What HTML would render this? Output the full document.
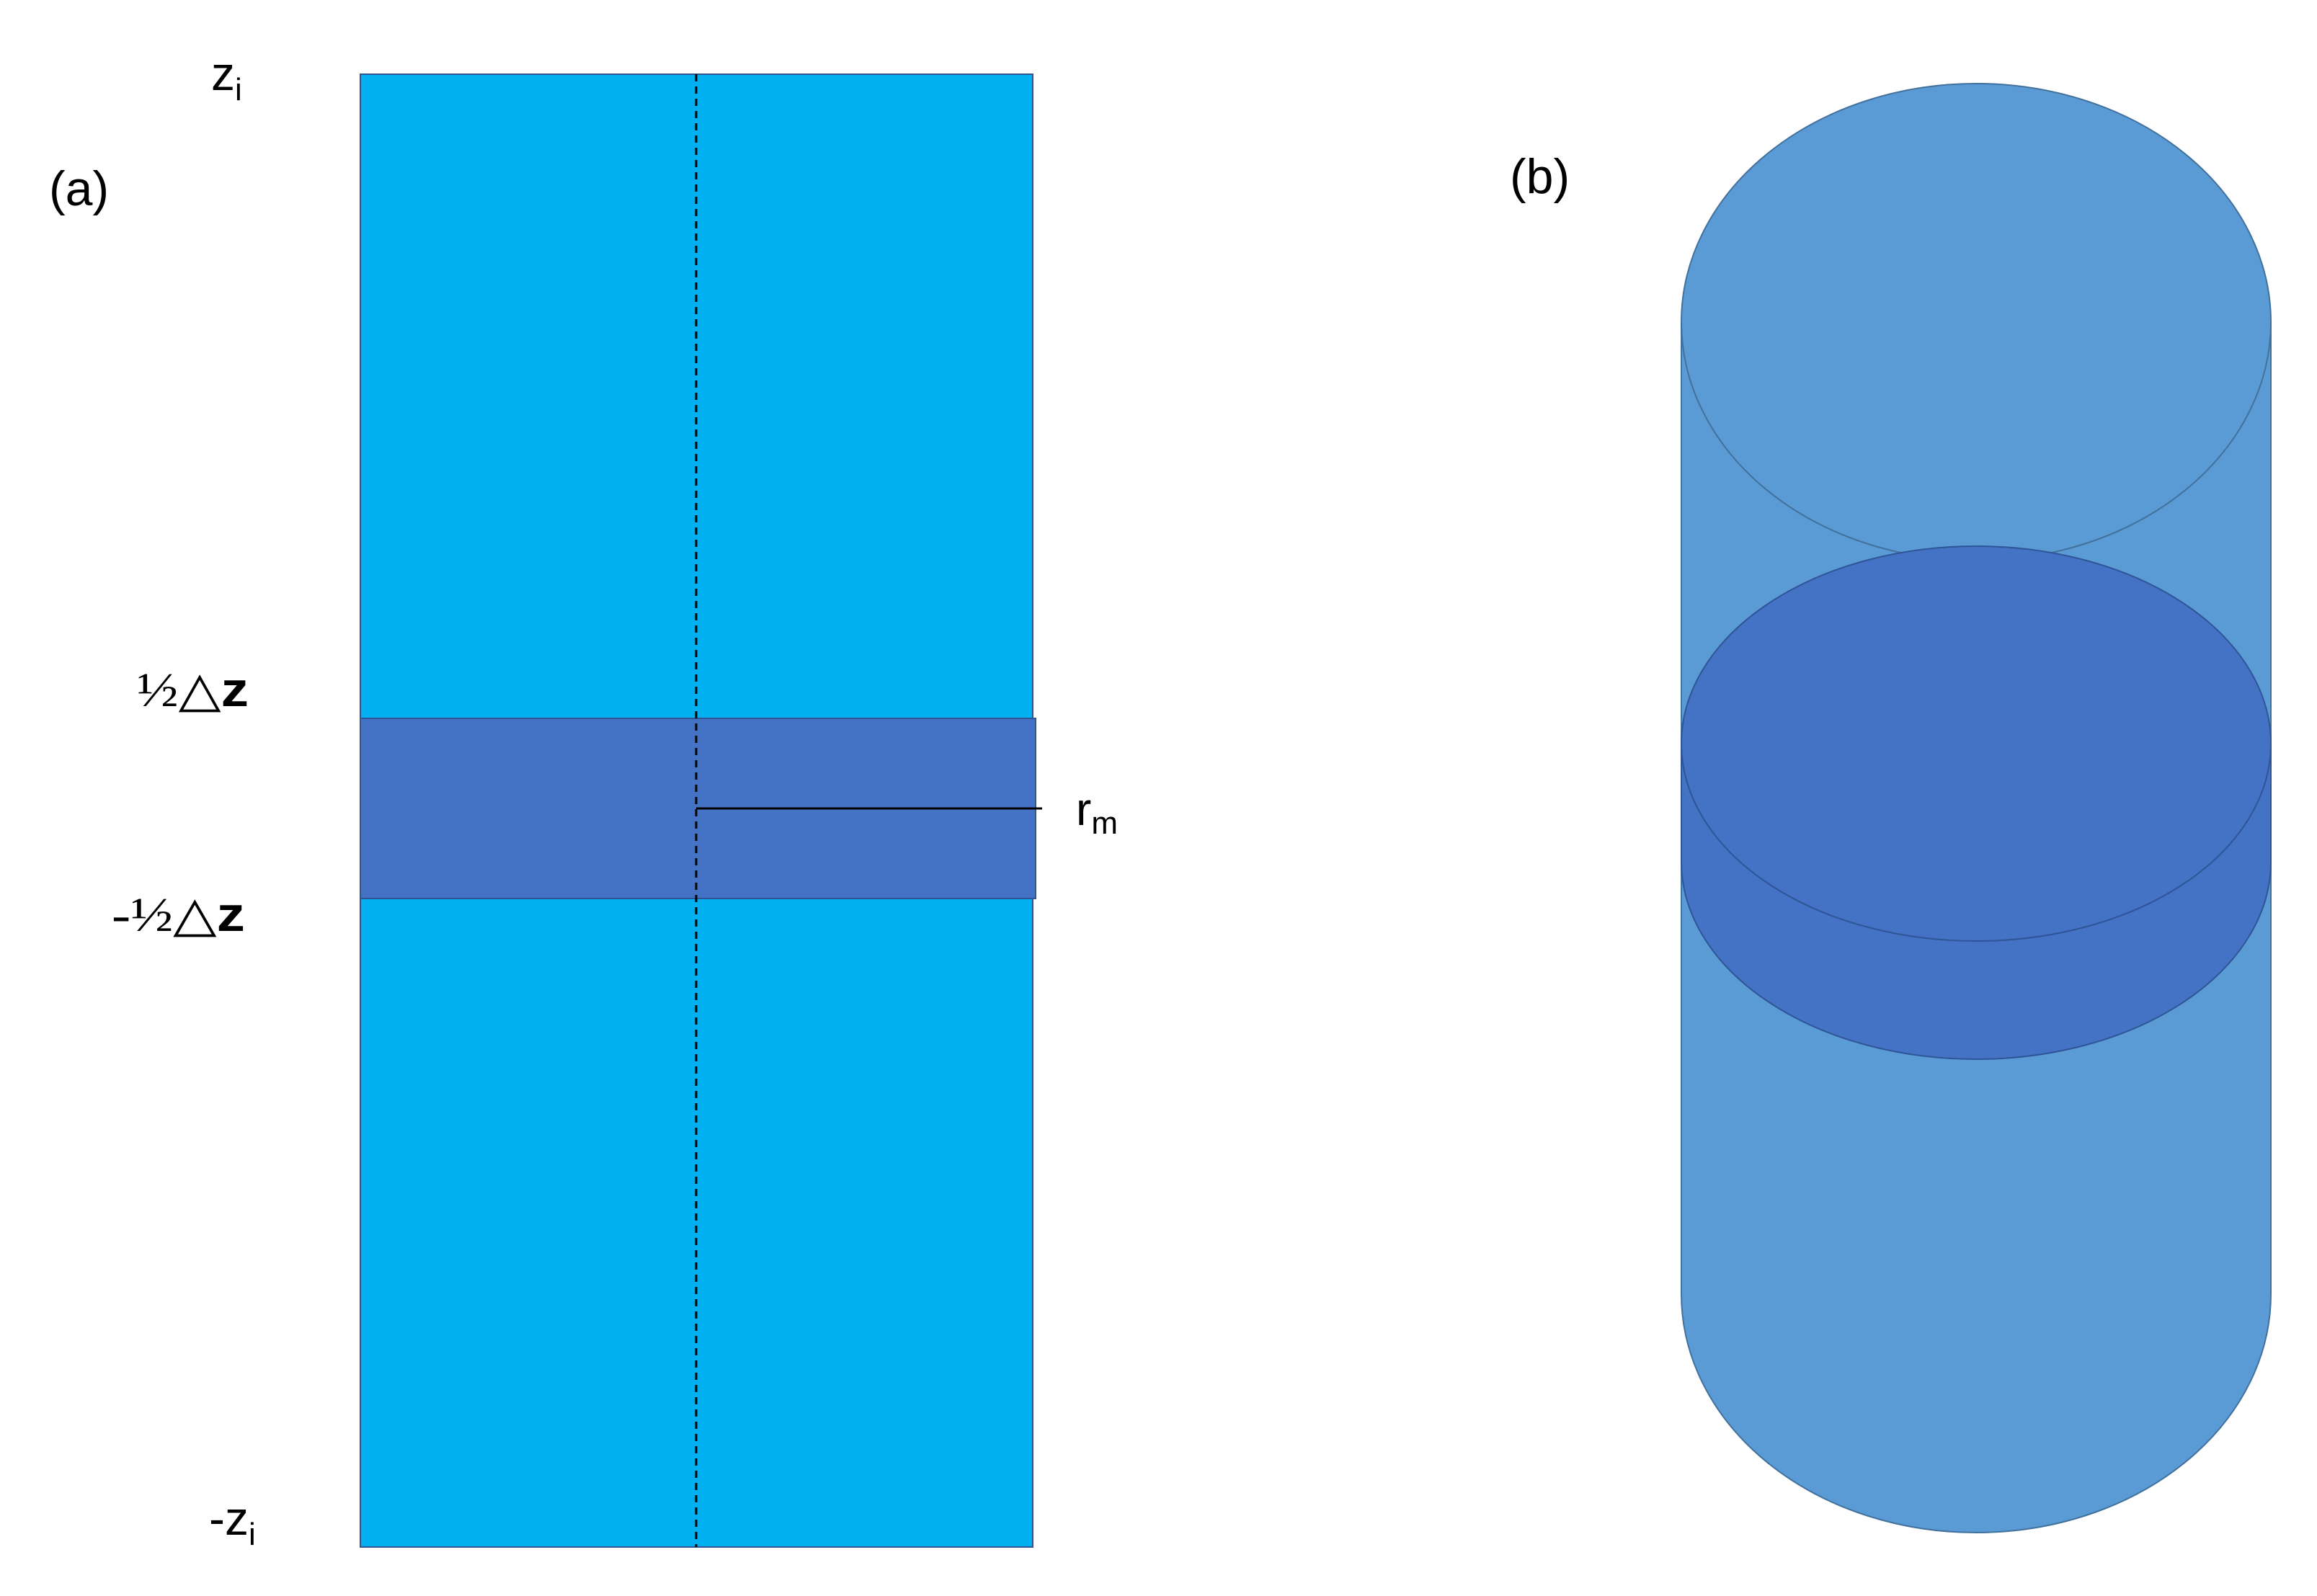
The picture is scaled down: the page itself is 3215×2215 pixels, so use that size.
<!DOCTYPE html>
<html><head><meta charset="utf-8"><style>html,body{margin:0;padding:0;background:#fff}svg{display:block}</style></head>
<body>
<svg width="3215" height="2215" viewBox="0 0 3215 2215" xmlns="http://www.w3.org/2000/svg" font-family="Liberation Sans, sans-serif">
<rect x="0" y="0" width="3215" height="2215" fill="#fff"/>
<!-- (a) -->
<rect x="500" y="103" width="933" height="2044" fill="#00B0F0" stroke="#2F5597" stroke-width="2"/>
<rect x="500" y="997" width="937" height="250" fill="#4472C4" stroke="#2F5597" stroke-width="2"/>
<line x1="966" y1="103" x2="966" y2="2147" stroke="#000" stroke-width="3" stroke-dasharray="10,7"/>
<line x1="966" y1="1122" x2="1446" y2="1122" stroke="#000" stroke-width="3"/>
<text x="1493" y="1145" font-size="64" fill="#000">r<tspan font-size="44" dy="12">m</tspan></text>
<text x="293" y="125" font-size="66" fill="#000">z<tspan font-size="44" dy="14">i</tspan></text>
<text x="290" y="2130" font-size="66" fill="#000">-z<tspan font-size="44" dy="14">i</tspan></text>
<text x="68" y="285" font-size="68" fill="#000">(a)</text>
<text x="190" y="980" font-size="68" fill="#000" font-family="Liberation Serif, serif" textLength="155" lengthAdjust="spacingAndGlyphs">½△<tspan font-family="Liberation Sans, sans-serif" font-weight="bold">z</tspan></text>
<text x="155" y="1292" font-size="68" fill="#000" font-family="Liberation Serif, serif" textLength="185" lengthAdjust="spacingAndGlyphs">-½△<tspan font-family="Liberation Sans, sans-serif" font-weight="bold">z</tspan></text>
<!-- (b) -->
<text x="2095" y="268" font-size="68" fill="#000">(b)</text>
<path d="M2333 447 L2333 1796 A409 331 0 0 0 3151 1796 L3151 447 Z" fill="#5B9BD5" stroke="#41719C" stroke-width="2"/>
<ellipse cx="2742" cy="447" rx="409" ry="331" fill="#5B9BD5" stroke="#41719C" stroke-width="2"/>
<path d="M2333 1032 L2333 1196 A409 274 0 0 0 3151 1196 L3151 1032 Z" fill="#4472C4" stroke="#2F5597" stroke-width="2"/>
<ellipse cx="2742" cy="1032" rx="409" ry="274" fill="#4472C4" stroke="#2F5597" stroke-width="2"/>
</svg>
</body></html>
